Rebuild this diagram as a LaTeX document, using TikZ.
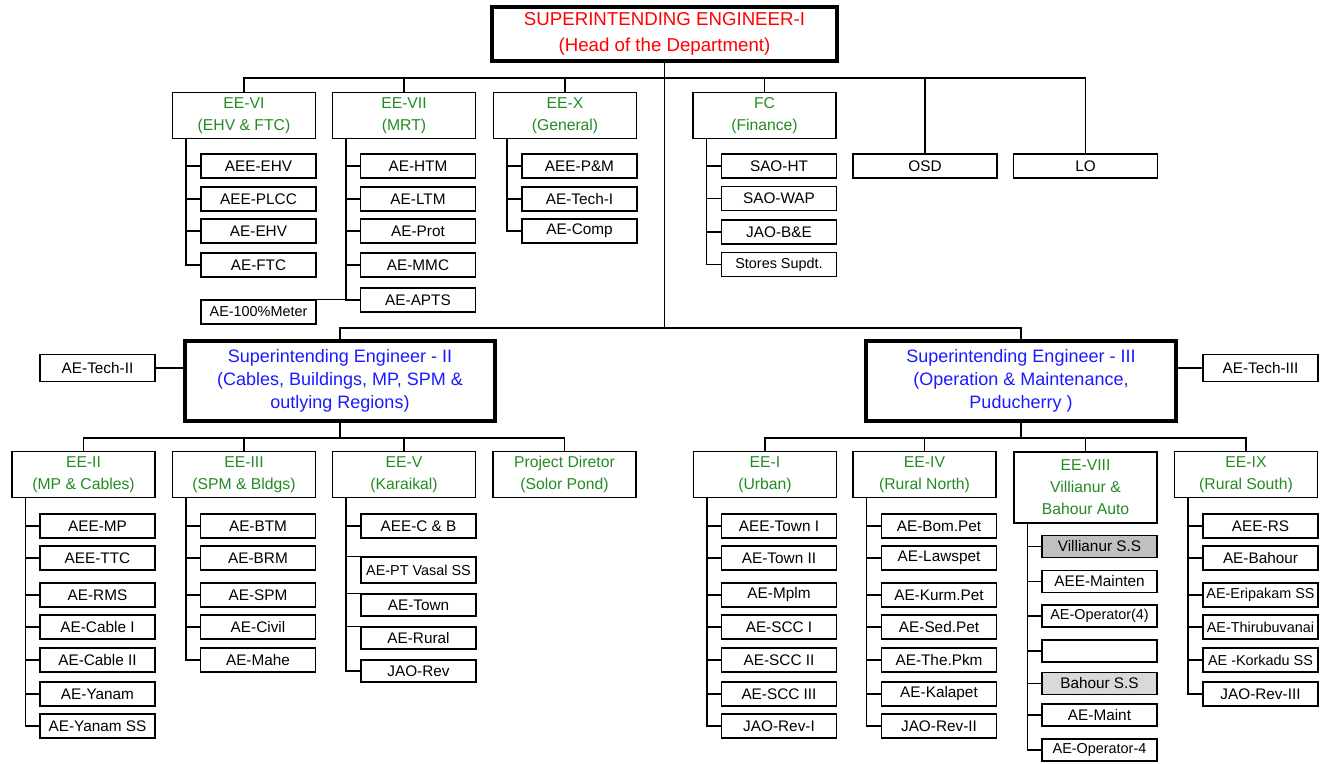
\documentclass[tikz,border=0pt]{standalone}
\usepackage{fontspec}
\setmainfont{Liberation Sans}
\usepackage{tikz}
\usetikzlibrary{calc}

\definecolor{headred}{RGB}{255,0,0}
\definecolor{seblue}{RGB}{26,26,255}
\definecolor{eegreen}{RGB}{34,139,34}
\definecolor{shadedark}{RGB}{192,192,192}
\definecolor{shadelight}{RGB}{217,217,217}

\begin{document}
\begin{tikzpicture}[x=0.75pt,y=-0.75pt,
    every node/.style={inner sep=0pt, align=center},
    post/.style={draw, line width=0.9pt, minimum width=86.25pt, minimum height=18pt, font=\fontsize{11.5}{13}\selectfont},
    low/.style={minimum height=16.5pt},
    small/.style={font=\fontsize{10.8}{12}\selectfont},
    wing/.style={draw, line width=0.9pt, minimum width=107.25pt, minimum height=34.5pt, text=eegreen, font=\fontsize{11.8}{16.5}\selectfont},
    chief/.style={draw, line width=3pt, text=seblue, minimum width=232.5pt, minimum height=60pt, font=\fontsize{13.5}{17.5}\selectfont},
    link/.style={line width=1pt}]
    \useasboundingbox (0,0) rectangle (1325,764);

    \node[chief, text=headred, minimum width=258.75pt, minimum height=40.5pt, font=\fontsize{14}{19}\selectfont] (se1) at (664.5,34) {SUPERINTENDING ENGINEER-I\\(Head of the Department)};

    \node[wing] (ee6) at (244,115.5) {EE-VI\\(EHV \& FTC)};
    \node[wing] (ee7) at (404,115.5) {EE-VII\\(MRT)};
    \node[wing] (ee10) at (565,115.5) {EE-X\\(General)};
    \node[wing] (fc) at (764.5,115.5) {FC\\(Finance)};
    \node[post, minimum width=108pt] (osd) at (925,166) {OSD};
    \node[post, minimum width=108pt] (lo) at (1085.5,166) {LO};

    \draw[link] (se1.south) -- ++(0,15) -| (ee6.north);
    \draw[link] (se1.south) -- ++(0,15) -| (ee7.north);
    \draw[link] (se1.south) -- ++(0,15) -| (ee10.north);
    \draw[link] (se1.south) -- ++(0,15) -| (fc.north);
    \draw[link] (se1.south) -- ++(0,15) -| (osd.north);
    \draw[link] (se1.south) -- ++(0,15) -| (lo.north);

    \node[post] (aeeehv) at (258.5,166) {AEE-EHV};
    \node[post] (aeeplcc) at (258.5,199) {AEE-PLCC};
    \node[post] (aeehv) at (258.5,231) {AE-EHV};
    \node[post] (aeftc) at (258.5,265) {AE-FTC};
    \draw[link] ([xshift=10.5pt]ee6.south west) coordinate (t6) |- (aeeehv.west)
        (t6) |- (aeeplcc.west) (t6) |- (aeehv.west) (t6) |- (aeftc.west);

    \node[post] (aehtm) at (418,166) {AE-HTM};
    \node[post] (aeltm) at (418,199) {AE-LTM};
    \node[post] (aeprot) at (418,231) {AE-Prot};
    \node[post] (aemmc) at (418,265) {AE-MMC};
    \node[post] (aeapts) at (418,300) {AE-APTS};
    \node[post, small] (aemeter) at (258.5,312) {AE-100\%Meter};
    \draw[link] ([xshift=10.5pt]ee7.south west) coordinate (t7) |- (aehtm.west)
        (t7) |- (aeltm.west) (t7) |- (aeprot.west) (t7) |- (aemmc.west)
        (t7) |- (aeapts.west) (t7) |- (aemeter.north east);

    \node[post] (aeepm) at (579.5,166) {AEE-P\&M};
    \node[post] (aetech1) at (579.5,199) {AE-Tech-I};
    \node[post] (aecomp) at (579.5,231) {AE-Comp};
    \draw[link] ([xshift=10.5pt]ee10.south west) coordinate (t10) |- (aeepm.west)
        (t10) |- (aetech1.west) (t10) |- (aecomp.west);

    \node[post] (saoht) at (779,166) {SAO-HT};
    \node[post] (saowap) at (779,198.5) {SAO-WAP};
    \node[post] (jaobe) at (779,232) {JAO-B\&E};
    \node[post, small] (stores) at (779,264.5) {Stores Supdt.};
    \draw[link] ([xshift=10.5pt]fc.south west) coordinate (tf) |- (saoht.west)
        (tf) |- (saowap.west) (tf) |- (jaobe.west) (tf) |- (stores.west);

    \node[chief] (se2) at (340,381) {Superintending Engineer - II\\(Cables, Buildings, MP, SPM \&\\outlying Regions)};
    \node[chief] (se3) at (1021,381) {Superintending Engineer - III\\(Operation \& Maintenance,\\Puducherry )};
    \draw[link] (se1.south) -- ++(0,265) -| (se2.north);
    \draw[link] (se1.south) -- ++(0,265) -| (se3.north);

    \node[post, minimum height=20pt] (aetech2) at (97.5,368) {AE-Tech-II};
    \node[post, minimum height=20pt] (aetech3) at (1260.5,368) {AE-Tech-III};
    \draw[link] (aetech2.east) -- (se2.west |- aetech2.east);
    \draw[link] (aetech3.west) -- (se3.east |- aetech3.west);

    \node[wing] (ee2) at (83.5,474.5) {EE-II\\(MP \& Cables)};
    \node[wing] (ee3) at (244,474.5) {EE-III\\(SPM \& Bldgs)};
    \node[wing] (ee5) at (404,474.5) {EE-V\\(Karaikal)};
    \node[wing] (pd) at (564.5,474.5) {Project Diretor\\(Solor Pond)};
    \draw[link] (se2.south) -- ++(0,15) -| (ee2.north);
    \draw[link] (se2.south) -- ++(0,15) -| (ee3.north);
    \draw[link] (se2.south) -- ++(0,15) -| (ee5.north);
    \draw[link] (se2.south) -- ++(0,15) -| (pd.north);

    \node[wing] (ee1) at (765,474.5) {EE-I\\(Urban)};
    \node[wing] (ee4) at (924.5,474.5) {EE-IV\\(Rural North)};
    \node[wing, minimum height=53.25pt] (ee8) at (1085.5,487.5) {EE-VIII\\Villianur \&\\Bahour Auto};
    \node[wing] (ee9) at (1246,474.5) {EE-IX\\(Rural South)};
    \draw[link] (se3.south) -- ++(0,15) -| (ee1.north);
    \draw[link] (se3.south) -- ++(0,15) -| (ee4.north);
    \draw[link] (se3.south) -- ++(0,15) -| (ee8.north);
    \draw[link] (se3.south) -- ++(0,15) -| (ee9.north);

    \node[post] (aeemp) at (97.5,526) {AEE-MP};
    \node[post] (aeettc) at (97.5,558) {AEE-TTC};
    \node[post] (aerms) at (97.5,595) {AE-RMS};
    \node[post] (aecable1) at (97.5,627) {AE-Cable I};
    \node[post] (aecable2) at (97.5,660) {AE-Cable II};
    \node[post] (aeyanam) at (97.5,694) {AE-Yanam};
    \node[post] (aeyanamss) at (97.5,726) {AE-Yanam SS};
    \draw[link] ([xshift=10.5pt]ee2.south west) coordinate (t2) |- (aeemp.west)
        (t2) |- (aeettc.west) (t2) |- (aerms.west) (t2) |- (aecable1.west)
        (t2) |- (aecable2.west) (t2) |- (aeyanam.west) (t2) |- (aeyanamss.west);

    \node[post] (aebtm) at (258,526) {AE-BTM};
    \node[post] (aebrm) at (258,558) {AE-BRM};
    \node[post] (aespm) at (258,595) {AE-SPM};
    \node[post] (aecivil) at (258,627) {AE-Civil};
    \node[post] (aemahe) at (258,660) {AE-Mahe};
    \draw[link] ([xshift=10.5pt]ee3.south west) coordinate (t3) |- (aebtm.west)
        (t3) |- (aebrm.west) (t3) |- (aespm.west) (t3) |- (aecivil.west)
        (t3) |- (aemahe.west);

    \node[post] (aeecb) at (418.5,526) {AEE-C \& B};
    \node[post, small, minimum height=19.5pt] (aeptvasal) at (418.5,570) {AE-PT Vasal SS};
    \node[post, low] (aetown) at (418.5,605) {AE-Town};
    \node[post, low] (aerural) at (418.5,638) {AE-Rural};
    \node[post, low] (jaorev) at (418.5,671) {JAO-Rev};
    \draw[link] ([xshift=10.5pt]ee5.south west) coordinate (t5) |- (aeecb.west)
        (t5) |- (aeptvasal.north west) (t5) |- (aetown.north west)
        (t5) |- (aerural.north west) (t5) |- (jaorev.west);

    \node[post] (aeetown1) at (779,526) {AEE-Town I};
    \node[post] (aetown2) at (779,558) {AE-Town II};
    \node[post] (aemplm) at (779,595) {AE-Mplm};
    \node[post] (aescc1) at (779,627) {AE-SCC I};
    \node[post] (aescc2) at (779,660) {AE-SCC II};
    \node[post] (aescc3) at (779,694) {AE-SCC III};
    \node[post] (jaorev1) at (779,726) {JAO-Rev-I};
    \draw[link] ([xshift=10.5pt]ee1.south west) coordinate (t1) |- (aeetown1.west)
        (t1) |- (aetown2.west) (t1) |- (aemplm.west) (t1) |- (aescc1.west)
        (t1) |- (aescc2.west) (t1) |- (aescc3.west) (t1) |- (jaorev1.west);

    \node[post] (aebompet) at (939,526) {AE-Bom.Pet};
    \node[post] (aelawspet) at (939,558) {AE-Lawspet};
    \node[post] (aekurmpet) at (939,595) {AE-Kurm.Pet};
    \node[post] (aesedpet) at (939,627) {AE-Sed.Pet};
    \node[post] (aethepkm) at (939,660) {AE-The.Pkm};
    \node[post] (aekalapet) at (939,694) {AE-Kalapet};
    \node[post] (jaorev2) at (939,726) {JAO-Rev-II};
    \draw[link] ([xshift=10.5pt]ee4.south west) coordinate (t4) |- (aebompet.west)
        (t4) |- (aelawspet.west) (t4) |- (aekurmpet.west) (t4) |- (aesedpet.west)
        (t4) |- (aethepkm.west) (t4) |- (aekalapet.west) (t4) |- (jaorev2.west);

    \node[post, low, fill=shadedark] (villss) at (1099.5,546.5) {Villianur S.S};
    \node[post, low] (aeemainten) at (1099.5,581.5) {AEE-Mainten};
    \node[post, low, small] (aeoperator) at (1099.5,616) {AE-Operator(4)};
    \node[post, low] (blank) at (1099.5,651) {};
    \node[post, low, fill=shadelight] (bahourss) at (1099.5,683.5) {Bahour S.S};
    \node[post, low] (aemaint) at (1099.5,715) {AE-Maint};
    \node[post, low, small] (aeoperator4) at (1099.5,750) {AE-Operator-4};
    \draw[link] ([xshift=10.5pt]ee8.south west) coordinate (t8) |- (villss.west)
        (t8) |- (aeemainten.west) (t8) |- (aeoperator.west) (t8) |- (blank.west)
        (t8) |- (bahourss.west) (t8) |- (aemaint.west) (t8) |- (aeoperator4.west);

    \node[post] (aeers) at (1260.5,526) {AEE-RS};
    \node[post] (aebahour) at (1260.5,558) {AE-Bahour};
    \node[post, small] (aeeripakam) at (1260.5,595) {AE-Eripakam SS};
    \node[post, small] (aethiru) at (1260.5,627) {AE-Thirubuvanai};
    \node[post, small] (aekorkadu) at (1260.5,660) {AE -Korkadu SS};
    \node[post] (jaorev3) at (1260.5,694) {JAO-Rev-III};
    \draw[link] ([xshift=10.5pt]ee9.south west) coordinate (t9) |- (aeers.west)
        (t9) |- (aebahour.west) (t9) |- (aeeripakam.west) (t9) |- (aethiru.west)
        (t9) |- (aekorkadu.west) (t9) |- (jaorev3.west);
\end{tikzpicture}
\end{document}
